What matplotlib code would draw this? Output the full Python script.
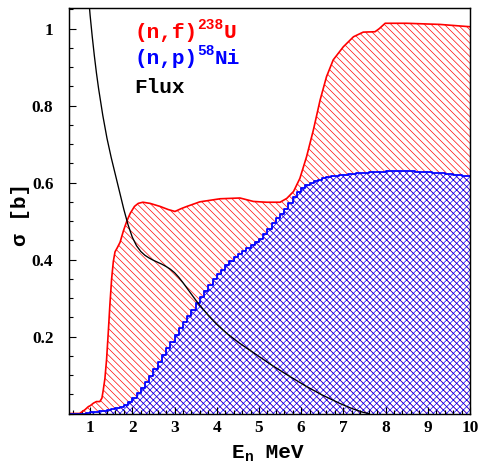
import numpy as np
import matplotlib
matplotlib.use("Agg")
import matplotlib.pyplot as plt
from matplotlib.ticker import MultipleLocator

# ---------------- data ----------------
# 238U(n,f) cross section [b]
E_u = [0.5, 0.75, 0.88, 0.96, 1.0, 1.08, 1.15, 1.23, 1.28, 1.31, 1.35, 1.39, 1.43,
       1.47, 1.51, 1.55, 1.59, 1.65, 1.71, 1.79, 1.87, 1.95, 2.05, 2.14, 2.25, 2.42,
       2.66, 2.85, 3.01, 3.15, 3.29, 3.60, 4.08, 4.55, 4.87, 5.18, 5.5, 5.66, 5.82,
       5.97, 6.13, 6.29, 6.45, 6.6, 6.76, 7.0, 7.24, 7.47, 7.75, 7.85, 7.99, 8.5,
       9.29, 10.0]
sig_u = [0.0, 0.0, 0.01, 0.018, 0.02, 0.027, 0.031, 0.031, 0.04, 0.06, 0.09, 0.14,
         0.21, 0.285, 0.35, 0.395, 0.42, 0.432, 0.445, 0.475, 0.50, 0.52, 0.538,
         0.546, 0.549, 0.546, 0.538, 0.530, 0.525, 0.532, 0.538, 0.550, 0.558,
         0.560, 0.551, 0.549, 0.549, 0.559, 0.577, 0.611, 0.668, 0.737, 0.815,
         0.875, 0.919, 0.953, 0.979, 0.991, 0.992, 1.0, 1.014, 1.014, 1.011, 1.005]

# 58Ni(n,p) cross section [b], histogram with 0.1 MeV bins (left edges)
E_ni = [round(0.5 + 0.1 * i, 1) for i in range(95)]
sig_ni = [0, 0, 0, 0, 0.001,
          0.003, 0.004, 0.006, 0.007, 0.009, 0.011, 0.014, 0.018, 0.023, 0.031,
          0.040, 0.052, 0.066, 0.081, 0.097, 0.115, 0.133, 0.152, 0.170, 0.187,
          0.204, 0.221, 0.238, 0.254, 0.270, 0.286, 0.303, 0.319, 0.335, 0.349,
          0.362, 0.374, 0.386, 0.397, 0.407, 0.415, 0.422, 0.429, 0.437, 0.445,
          0.454, 0.466, 0.480, 0.494, 0.507, 0.519, 0.532, 0.548, 0.563, 0.576,
          0.586, 0.593, 0.599, 0.604, 0.608, 0.611, 0.614, 0.616, 0.618, 0.620,
          0.621, 0.622, 0.623, 0.624, 0.625, 0.626, 0.627, 0.627, 0.628, 0.628,
          0.629, 0.629, 0.629, 0.629, 0.629, 0.629, 0.629, 0.628, 0.628, 0.627,
          0.627, 0.626, 0.625, 0.624, 0.623, 0.622, 0.620, 0.619, 0.617, 0.616]
E_ni_end = 10.0

# neutron flux (arbitrary units)
E_flux = [0.9, 0.95, 1.0, 1.05, 1.1, 1.15, 1.2, 1.3, 1.4, 1.5, 1.6, 1.7, 1.8,
          1.9, 2.0, 2.1, 2.2, 2.3, 2.4, 2.5, 2.6, 2.7, 2.8, 2.9, 3.0, 3.1, 3.2,
          3.3, 3.4, 3.5, 3.6, 3.8, 4.0, 4.25, 4.55, 4.95, 5.34, 5.75, 6.13, 6.5,
          6.92, 7.2, 7.47, 7.6]
flux = [1.17, 1.10, 1.035, 0.98, 0.93, 0.885, 0.845, 0.775, 0.715, 0.665, 0.62,
        0.575, 0.53, 0.49, 0.458, 0.436, 0.421, 0.411, 0.404, 0.398, 0.393,
        0.388, 0.382, 0.375, 0.366, 0.354, 0.340, 0.325, 0.310, 0.295, 0.281,
        0.255, 0.232, 0.207, 0.182, 0.152, 0.123, 0.095, 0.070, 0.048, 0.026,
        0.013, 0.003, 0.0]

x_ticks = [1, 2, 3, 4, 5, 6, 7, 8, 9, 10]
y_ticks = [0.2, 0.4, 0.6, 0.8, 1.0]
y_ticklabels = ["0.2", "0.4", "0.6", "0.8", "1"]

# ---------------- figure ----------------
DPI = 80
plt.rcParams['hatch.linewidth'] = 0.6
fig = plt.figure(figsize=(480 / DPI, 467 / DPI), dpi=DPI)
W, H = 480, 467
ax_l, ax_r, ax_t, ax_b = 69, 470, 7.5, 413.5
ax = fig.add_axes([ax_l / W, 1 - ax_b / H, (ax_r - ax_l) / W, (ax_b - ax_t) / H])

RED = '#ff0000'
BLUE = '#0000ff'

ax.fill_between(E_u, 0, sig_u, facecolor='none', edgecolor=RED,
                hatch='\\\\\\\\', linewidth=0)
ni_x = E_ni + [E_ni_end]
ni_y = sig_ni + [sig_ni[-1]]
ax.fill_between(ni_x, 0, ni_y, step='post', facecolor='none', edgecolor=BLUE,
                hatch='xxxx', linewidth=0)
ax.plot(E_u, sig_u, color=RED, lw=1.5)
ax.plot(ni_x, ni_y, color=BLUE, lw=1.6, drawstyle='steps-post')
ax.plot(E_flux, flux, color='black', lw=1.2)

ax.set_xlim(0.5, 10)
ax.set_ylim(0, 1.055)
ax.set_xticks(x_ticks)
ax.set_yticks(y_ticks)
ax.set_yticklabels(y_ticklabels)
ax.xaxis.set_minor_locator(MultipleLocator(0.2))
ax.yaxis.set_minor_locator(MultipleLocator(0.05))
ax.tick_params(which='both', direction='in', top=False, right=False, width=1.0)
ax.tick_params(which='major', length=6.3)
ax.tick_params(which='minor', length=3.6)
ax.tick_params(axis='y', which='major', pad=14)
ax.tick_params(axis='x', which='major', pad=6)
for lab in ax.get_xticklabels() + ax.get_yticklabels():
    lab.set_fontfamily('Liberation Serif')
    lab.set_fontweight('bold')
    lab.set_fontsize(15.5)
for sp in ax.spines.values():
    sp.set_linewidth(1.3)

MONO = ['Liberation Mono', 'DejaVu Sans Mono']
PT = DPI / 72.0  # px per point


def put_pieces(pieces, x_px, y_px):
    """pieces: list of (text, size_pt, color, dy_pt). Monospace advance 0.6 em."""
    x = x_px
    for txt, size, color, dy in pieces:
        fig.text(x / W, 1 - (y_px - dy * PT) / H, txt, fontsize=size,
                 family=MONO, weight='bold', color=color, ha='left', va='baseline')
        x += len(txt) * 0.6 * size * PT


FS = 19
FSS = 13
put_pieces([("(n,f)", FS, RED, 0), ("238", FSS, RED, 8), ("U", FS, RED, 0)], 134, 38)
put_pieces([("(n,p)", FS, BLUE, 0), ("58", FSS, BLUE, 8), ("Ni", FS, BLUE, 0)], 134, 64)
put_pieces([("Flux", FS, 'black', 0)], 134, 93)

# x label: E_n MeV
put_pieces([("E", FS, 'black', 0), ("n", FSS, 'black', -3), (" MeV", FS, 'black', 0)], 232, 458)

# y label
fig.text(20 / W, 1 - 214 / H, "σ [b]", fontsize=FS, family=MONO, weight='bold',
         rotation=90, ha='center', va='center')

fig.savefig('out.png', dpi=DPI)
